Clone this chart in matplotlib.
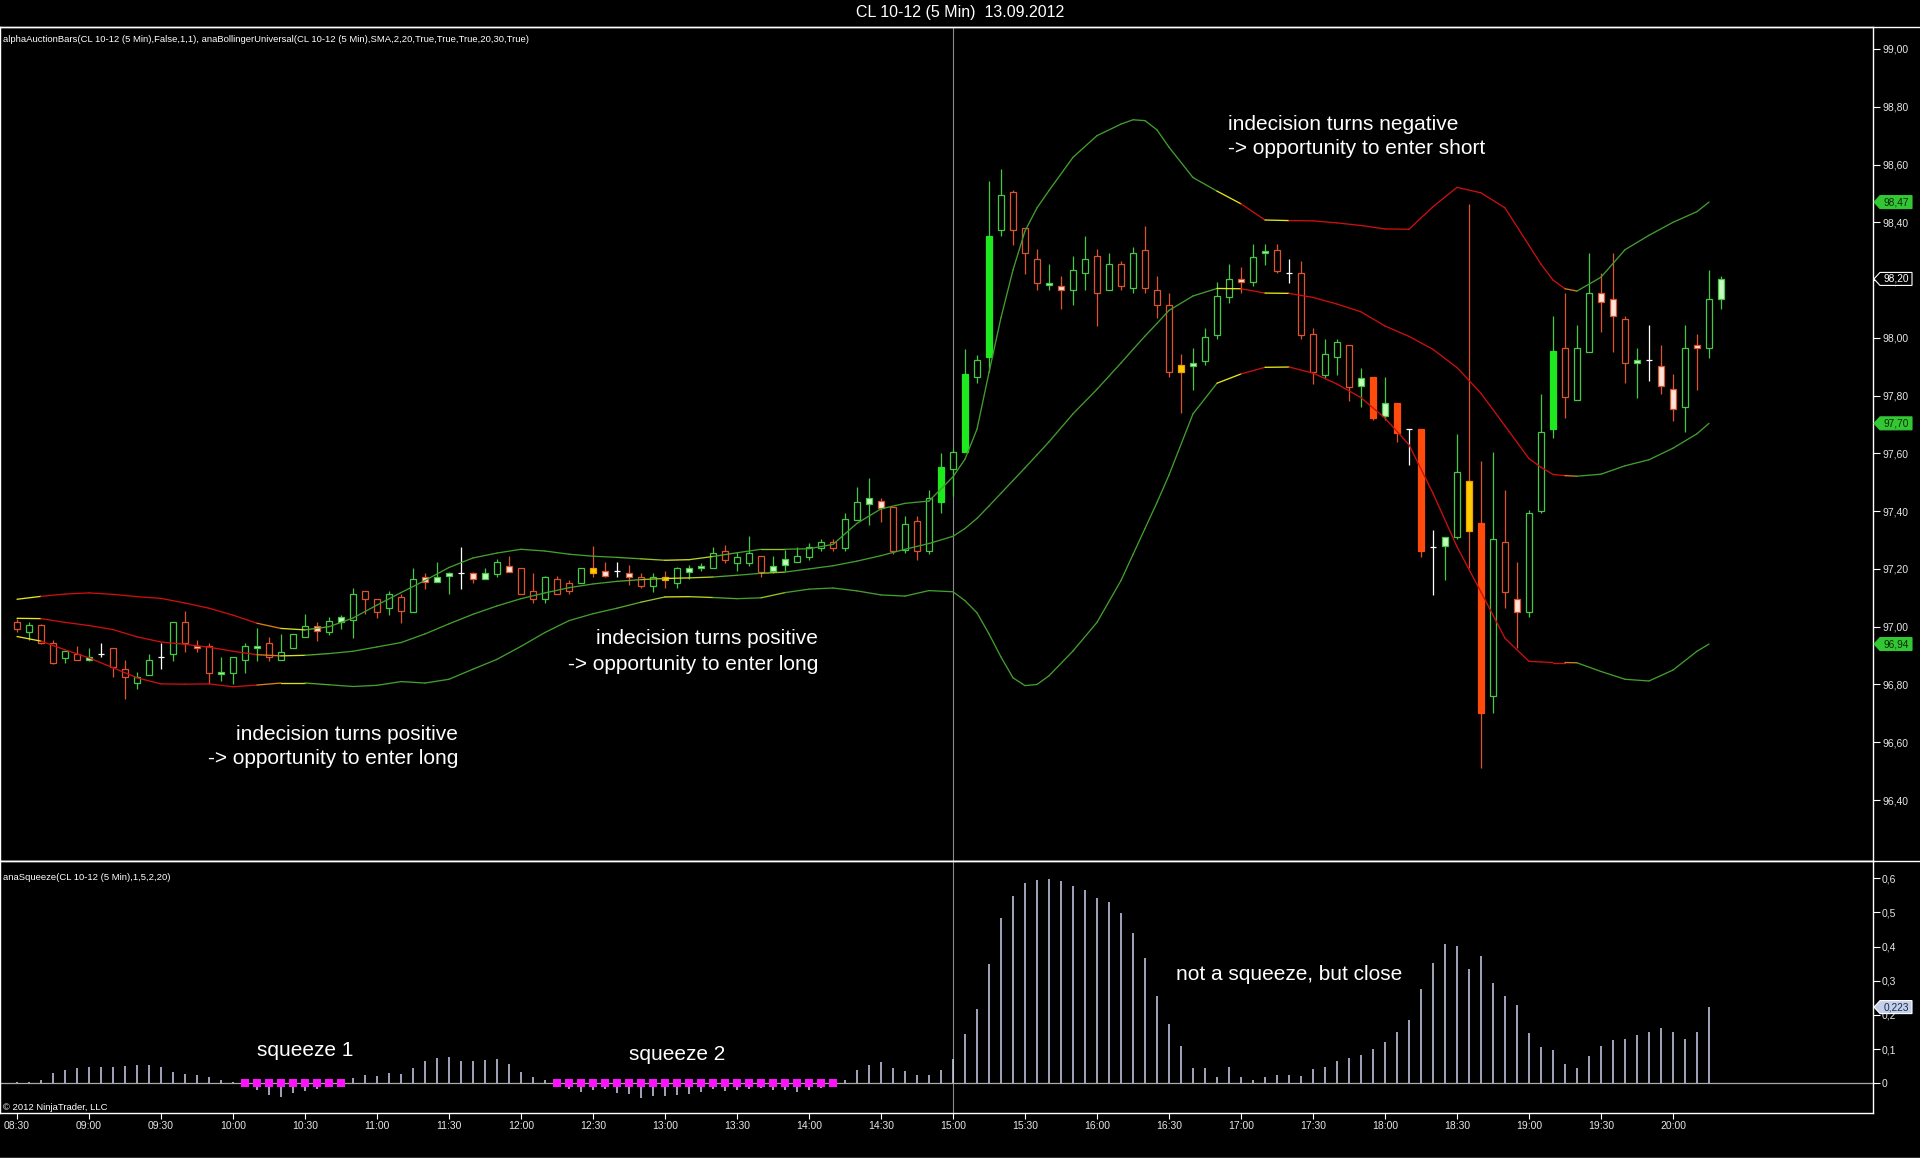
import numpy as np
import matplotlib
matplotlib.use("Agg")
import matplotlib.pyplot as plt
from matplotlib.collections import LineCollection
from matplotlib.patches import Polygon, Rectangle
from matplotlib.lines import Line2D
import matplotlib.transforms as mtransforms
from matplotlib.ticker import FixedLocator, FuncFormatter

plt.rcParams['font.family'] = ['Liberation Sans', 'DejaVu Sans']

# ------------------------------------------------------------------ data
title = "CL 10-12 (5 Min)  13.09.2012"
main_label = ("alphaAuctionBars(CL 10-12 (5 Min),False,1,1), anaBollingerUniversal(CL 10-12 (5 Min),"
              "SMA,2,20,True,True,True,20,30,True)")
sub_label = "anaSqueeze(CL 10-12 (5 Min),1,5,2,20)"
copyright_text = "\u00a9 2012 NinjaTrader, LLC"

session_start = "08:30"
bar_minutes = 5
time_labels = ["08:30", "09:00", "09:30", "10:00", "10:30", "11:00", "11:30", "12:00",
               "12:30", "13:00", "13:30", "14:00", "14:30", "15:00", "15:30", "16:00",
               "16:30", "17:00", "17:30", "18:00", "18:30", "19:00", "19:30", "20:00"]
marker_time = "15:00"

# candles (5 min bars from 08:30)
opens = [97.017, 96.983, 97.006, 96.945, 96.893, 96.904, 96.885, 96.904, 96.925, 96.852,
         96.804, 96.833, 96.894, 96.904, 97.015, 96.934, 96.933, 96.835, 96.841, 96.885,
         96.925, 96.942, 96.885, 96.925, 96.963, 97.004, 96.983, 97.017, 97.023, 97.124,
         97.096, 97.064, 97.102, 97.052, 97.173, 97.154, 97.176, 97.185, 97.185, 97.164,
         97.182, 97.211, 97.202, 97.124, 97.095, 97.164, 97.124, 97.152, 97.185, 97.193,
         97.193, 97.185, 97.173, 97.142, 97.162, 97.152, 97.190, 97.202, 97.202, 97.263,
         97.222, 97.222, 97.245, 97.193, 97.214, 97.223, 97.242, 97.274, 97.292, 97.274,
         97.369, 97.424, 97.435, 97.416, 97.266, 97.366, 97.263, 97.433, 97.545, 97.605,
         97.863, 97.933, 98.373, 98.505, 98.382, 98.274, 98.183, 98.181, 98.165, 98.223,
         98.283, 98.165, 98.256, 98.174, 98.303, 98.165, 98.112, 97.883, 97.904, 97.921,
         98.010, 98.143, 98.203, 98.192, 98.293, 98.304, 98.223, 98.223, 98.013, 97.871,
         97.933, 97.975, 97.833, 97.866, 97.731, 97.773, 97.683, 97.684, 97.275, 97.281,
         97.312, 97.504, 97.358, 96.760, 97.292, 97.095, 97.052, 97.401, 97.683, 97.964,
         97.785, 97.952, 98.154, 98.134, 98.064, 97.912, 97.922, 97.904, 97.822, 97.762,
         97.975, 97.964, 98.134]
highs = [97.025, 97.017, 97.010, 96.954, 96.916, 96.933, 96.925, 96.942, 96.925, 96.885,
         96.842, 96.904, 96.942, 97.015, 97.055, 96.954, 96.942, 96.894, 96.894, 96.942,
         96.994, 96.965, 96.974, 96.974, 97.043, 97.017, 97.032, 97.041, 97.133, 97.124,
         97.096, 97.124, 97.113, 97.202, 97.187, 97.225, 97.191, 97.277, 97.191, 97.202,
         97.233, 97.245, 97.202, 97.187, 97.176, 97.176, 97.162, 97.202, 97.279, 97.225,
         97.225, 97.214, 97.185, 97.185, 97.193, 97.208, 97.214, 97.222, 97.277, 97.283,
         97.260, 97.314, 97.245, 97.245, 97.266, 97.275, 97.291, 97.304, 97.304, 97.393,
         97.485, 97.514, 97.444, 97.416, 97.383, 97.383, 97.473, 97.603, 97.615, 97.962,
         97.942, 98.542, 98.585, 98.512, 98.382, 98.307, 98.254, 98.214, 98.283, 98.353,
         98.307, 98.294, 98.267, 98.313, 98.386, 98.214, 98.154, 97.945, 97.965, 98.033,
         98.195, 98.254, 98.244, 98.325, 98.325, 98.325, 98.273, 98.266, 98.033, 97.996,
         97.996, 97.975, 97.894, 97.866, 97.866, 97.773, 97.683, 97.684, 97.335, 97.312,
         97.666, 98.463, 97.574, 97.606, 97.473, 97.225, 97.404, 97.804, 98.076, 98.154,
         98.045, 98.295, 98.223, 98.295, 98.076, 97.964, 98.045, 97.975, 97.875, 98.045,
         98.013, 98.235, 98.214]
lows = [96.983, 96.954, 96.940, 96.870, 96.873, 96.884, 96.882, 96.894, 96.825, 96.750,
        96.783, 96.832, 96.852, 96.882, 96.914, 96.914, 96.800, 96.812, 96.802, 96.841,
        96.881, 96.882, 96.885, 96.925, 96.963, 96.952, 96.971, 96.992, 96.960, 97.043,
        97.029, 97.041, 97.014, 97.052, 97.131, 97.154, 97.113, 97.131, 97.152, 97.164,
        97.171, 97.190, 97.112, 97.083, 97.083, 97.112, 97.112, 97.152, 97.171, 97.173,
        97.173, 97.144, 97.133, 97.121, 97.133, 97.133, 97.164, 97.193, 97.202, 97.222,
        97.193, 97.211, 97.173, 97.185, 97.193, 97.223, 97.231, 97.262, 97.262, 97.262,
        97.369, 97.352, 97.364, 97.252, 97.254, 97.231, 97.252, 97.393, 97.452, 97.605,
        97.843, 97.883, 98.353, 98.323, 98.221, 98.164, 98.164, 98.101, 98.112, 98.165,
        98.042, 98.165, 98.165, 98.154, 98.154, 98.068, 97.863, 97.740, 97.820, 97.906,
        97.995, 98.122, 98.154, 98.181, 98.252, 98.223, 98.191, 97.995, 97.840, 97.860,
        97.871, 97.783, 97.762, 97.716, 97.716, 97.641, 97.560, 97.240, 97.110, 97.161,
        97.304, 97.202, 96.510, 96.700, 97.064, 96.925, 97.032, 97.392, 97.652, 97.724,
        97.785, 97.952, 98.021, 97.952, 97.843, 97.791, 97.852, 97.804, 97.713, 97.673,
        97.819, 97.931, 98.100]
closes = [96.991, 97.006, 96.942, 96.873, 96.916, 96.885, 96.896, 96.904, 96.862, 96.825,
          96.827, 96.885, 96.894, 97.015, 96.942, 96.925, 96.841, 96.842, 96.894, 96.933,
          96.933, 96.894, 96.914, 96.974, 97.004, 96.985, 97.021, 97.032, 97.113, 97.095,
          97.052, 97.113, 97.054, 97.164, 97.154, 97.173, 97.185, 97.185, 97.164, 97.185,
          97.225, 97.190, 97.112, 97.095, 97.173, 97.112, 97.152, 97.202, 97.202, 97.176,
          97.193, 97.173, 97.141, 97.173, 97.173, 97.202, 97.202, 97.211, 97.254, 97.231,
          97.243, 97.256, 97.191, 97.211, 97.233, 97.245, 97.275, 97.292, 97.274, 97.373,
          97.433, 97.444, 97.412, 97.263, 97.356, 97.263, 97.444, 97.554, 97.604, 97.876,
          97.922, 98.353, 98.495, 98.373, 98.293, 98.191, 98.190, 98.165, 98.234, 98.272,
          98.154, 98.254, 98.181, 98.294, 98.174, 98.112, 97.883, 97.905, 97.912, 98.002,
          98.145, 98.204, 98.192, 98.281, 98.302, 98.233, 98.223, 98.010, 97.883, 97.944,
          97.985, 97.831, 97.862, 97.724, 97.773, 97.672, 97.683, 97.263, 97.275, 97.312,
          97.534, 97.332, 96.700, 97.302, 97.121, 97.052, 97.392, 97.673, 97.955, 97.794,
          97.964, 98.154, 98.123, 98.076, 97.912, 97.923, 97.922, 97.833, 97.753, 97.964,
          97.964, 98.134, 98.204]
# bar colouring of alphaAuctionBars: u up, d down, U strong up, D strong down,
# g indecision up, p indecision down, y neutral, w doji   (10 bars per chunk)
bar_types = "".join([
    "duddudgwdd", "uuwudpdguu", "gduuupugud", "dudupggwpg", "upddudduyp",
    "wpduyuggud", "uudgguuudu", "ugpduduUuU", "uUudddgpuu", "dududddygu",
    "uupugdwddu", "udgDgDwDwg", "uyDudpuuUd", "uuppdgwppu", "pug",
])

# Bollinger bands (SMA 20, 2 sd) read at bar positions
band_x = [0, 2, 4, 6, 8, 10, 12, 14, 16, 18, 20, 22, 24, 26, 28, 30, 32, 34, 36, 38,
          40, 42, 44, 46, 48, 50, 52, 54, 56, 58, 60, 62, 64, 66, 68, 70, 72, 74, 76,
          78, 79, 80, 81, 82, 83, 84, 85, 86,
          88, 90, 92, 93, 94, 95, 96,
          98, 100, 102, 104, 106, 108, 110, 112, 114, 116, 118, 120, 122, 124, 126,
          127, 128, 129, 130, 132, 134, 136, 138, 140, 141]
band_upper = [97.095, 97.105, 97.113, 97.117, 97.112, 97.104, 97.098, 97.082, 97.064, 97.040,
              97.012, 96.994, 96.989, 97.000, 97.030, 97.075, 97.118, 97.160, 97.205, 97.238,
              97.255, 97.268, 97.262, 97.251, 97.244, 97.240, 97.235, 97.230, 97.232, 97.243,
              97.256, 97.268, 97.268, 97.270, 97.285, 97.358, 97.408, 97.427, 97.435,
              97.519, 97.580, 97.684, 97.880, 98.070, 98.235, 98.370, 98.450, 98.510,
              98.625, 98.700, 98.740, 98.755, 98.752, 98.720, 98.660,
              98.555, 98.508, 98.464, 98.408, 98.406, 98.405, 98.398, 98.389, 98.377, 98.376,
              98.454, 98.521, 98.502, 98.450, 98.320,
              98.255, 98.200, 98.170, 98.162, 98.210, 98.305, 98.355, 98.400, 98.437, 98.470]
band_mid = [97.029, 97.028, 97.015, 97.004, 96.990, 96.965, 96.947, 96.939, 96.929, 96.915,
            96.903, 96.899, 96.901, 96.907, 96.915, 96.930, 96.945, 96.975, 97.010, 97.043,
            97.072, 97.097, 97.117, 97.135, 97.148, 97.157, 97.163, 97.167, 97.169, 97.172,
            97.178, 97.185, 97.189, 97.200, 97.211, 97.227, 97.246, 97.268, 97.288,
            97.313, 97.340, 97.375, 97.418, 97.462, 97.506, 97.550, 97.595, 97.640,
            97.737, 97.822, 97.913, 97.960, 98.006, 98.050, 98.095,
            98.145, 98.171, 98.170, 98.155, 98.154, 98.140, 98.117, 98.090, 98.041, 98.005,
            97.960, 97.897, 97.808, 97.695, 97.582,
            97.552, 97.527, 97.523, 97.521, 97.528, 97.557, 97.578, 97.618, 97.668, 97.704]
band_lower = [96.966, 96.950, 96.920, 96.892, 96.858, 96.823, 96.802, 96.801, 96.802, 96.792,
              96.798, 96.805, 96.805, 96.799, 96.793, 96.797, 96.810, 96.805, 96.818, 96.853,
              96.887, 96.932, 96.980, 97.021, 97.045, 97.064, 97.085, 97.103, 97.104, 97.101,
              97.097, 97.100, 97.118, 97.130, 97.134, 97.124, 97.110, 97.106, 97.125,
              97.121, 97.090, 97.048, 96.975, 96.895, 96.823, 96.796, 96.800, 96.830,
              96.916, 97.015, 97.160, 97.250, 97.340, 97.430, 97.525,
              97.737, 97.843, 97.875, 97.898, 97.899, 97.878, 97.840, 97.793, 97.722, 97.630,
              97.462, 97.277, 97.120, 96.960, 96.880,
              96.878, 96.876, 96.876, 96.875, 96.845, 96.818, 96.812, 96.850, 96.915, 96.940]

# anaSqueeze momentum histogram
squeeze_hist = [0.004, 0.005, 0.010, 0.031, 0.039, 0.044, 0.048, 0.048, 0.048, 0.052,
                0.054, 0.054, 0.048, 0.033, 0.028, 0.024, 0.019, 0.011, 0.005, -0.004,
                -0.021, -0.033, -0.039, -0.029, -0.022, -0.017, -0.008, -0.002, 0.015, 0.024,
                0.021, 0.031, 0.027, 0.045, 0.065, 0.073, 0.076, 0.065, 0.065, 0.067,
                0.071, 0.057, 0.033, 0.018, 0.010, -0.006, -0.017, -0.024, -0.020, -0.018,
                -0.027, -0.031, -0.042, -0.037, -0.036, -0.034, -0.032, -0.026, -0.018, -0.022,
                -0.020, -0.018, -0.013, -0.020, -0.020, -0.024, -0.020, -0.013, -0.004, 0.010,
                0.039, 0.054, 0.061, 0.044, 0.037, 0.024, 0.024, 0.039, 0.071, 0.144,
                0.218, 0.349, 0.483, 0.548, 0.587, 0.595, 0.598, 0.592, 0.576, 0.566,
                0.541, 0.531, 0.499, 0.441, 0.366, 0.256, 0.174, 0.109, 0.044, 0.044,
                0.019, 0.047, 0.019, 0.010, 0.019, 0.024, 0.024, 0.021, 0.042, 0.048,
                0.065, 0.073, 0.083, 0.100, 0.121, 0.150, 0.184, 0.276, 0.351, 0.407,
                0.402, 0.335, 0.373, 0.293, 0.256, 0.229, 0.146, 0.105, 0.098, 0.057,
                0.044, 0.080, 0.109, 0.127, 0.130, 0.141, 0.150, 0.161, 0.150, 0.130,
                0.150, 0.223]
squeeze_periods = [("10:05", "10:45"), ("12:15", "14:10")]

price_ticks = [96.40, 96.60, 96.80, 97.00, 97.20, 97.40, 97.60, 97.80, 98.00, 98.20,
               98.40, 98.60, 98.80, 99.00]
squeeze_ticks = [0.0, 0.1, 0.2, 0.3, 0.4, 0.5, 0.6]

annotations_main = [
    ("indecision turns positive", 458, 735, 'right'),
    ("-> opportunity to enter long", 458, 759, 'right'),
    ("indecision turns positive", 818, 639, 'right'),
    ("-> opportunity to enter long", 818, 664, 'right'),
    ("indecision turns negative", 1228, 124, 'left'),
    ("-> opportunity to enter short", 1228, 148, 'left'),
]
annotations_sub = [
    ("squeeze 1", 305, 1050),
    ("squeeze 2", 677, 1054),
    ("not a squeeze, but close", 1289, 975),
]

assert len(band_x) == len(band_upper) == len(band_mid) == len(band_lower)
assert len(opens) == len(highs) == len(lows) == len(closes) == len(bar_types)

# ------------------------------------------------------------------ helpers
W, H, DPI = 1920, 1159, 100
AX_RIGHT = 1873
MAIN_TOP, MAIN_BOT = 27, 861
SUB_TOP, SUB_BOT = 861, 1113


def tidx(t):
    h0, m0 = map(int, session_start.split(":"))
    h, m = map(int, t.split(":"))
    return ((h * 60 + m) - (h0 * 60 + m0)) / bar_minutes


def fx(x):
    return x / W


def fy(y):
    return 1 - y / H


def comma(v, nd):
    return f"{v:.{nd}f}".replace(".", ",")


fig = plt.figure(figsize=(W / DPI, H / DPI), dpi=DPI, facecolor='black')
ax = fig.add_axes([0, fy(MAIN_BOT), AX_RIGHT / W, (MAIN_BOT - MAIN_TOP) / H], facecolor='black')
ax2 = fig.add_axes([0, fy(SUB_BOT), AX_RIGHT / W, (SUB_BOT - SUB_TOP) / H], facecolor='black',
                   sharex=ax)

xmin, xmax = -17 / 12, (AX_RIGHT - 17) / 12
ax.set_xlim(xmin, xmax)
ax.set_ylim(99 - (MAIN_BOT - 49) / 288.85, 99 + (49 - MAIN_TOP) / 288.85)
ax2.set_ylim(-(SUB_BOT - 1083.3) / 341.7, (1083.3 - SUB_TOP) / 341.7)

# ------------------------------------------------------------------ main panel
UP_EDGE, DN_EDGE = '#45c845', '#dc532e'
type_style = {
    'u': ('black', UP_EDGE, UP_EDGE),
    'd': ('black', DN_EDGE, DN_EDGE),
    'U': ('#1ee81e', '#1ee81e', UP_EDGE),
    'D': ('#ff4c0c', '#ff4c0c', DN_EDGE),
    'g': ('#c6fbbe', UP_EDGE, UP_EDGE),
    'p': ('#ffe4da', DN_EDGE, DN_EDGE),
    'y': ('#ffcc00', '#f0a000', DN_EDGE),
}
bw = 0.42
for i, (o, h, l, c, t) in enumerate(zip(opens, highs, lows, closes, bar_types)):
    if t == 'w':
        ax.vlines(i, l, h, color='white', lw=0.9, zorder=3)
        ax.hlines(c, i - bw / 2, i + bw / 2, color='white', lw=0.9, zorder=3)
        continue
    fill, edge, wick = type_style[t]
    top, bot = max(o, c), min(o, c)
    ax.vlines(i, l, h, color=wick, lw=0.9, zorder=2.5)
    ax.add_patch(Rectangle((i - bw / 2, bot), bw, max(top - bot, 0.004), facecolor=fill,
                           edgecolor=edge, lw=0.9, zorder=3))

# Bollinger bands coloured by slope of the middle band
bx = np.array(band_x, float)
mid = np.array(band_mid)
slope = np.diff(mid) / np.diff(bx)
frac = np.clip((np.abs(slope) - 0.0008) / 0.0025, 0, 1)
c_yel = np.array([0.90, 0.90, 0.10])
c_grn = np.array([0.26, 0.62, 0.18])
c_red = np.array([0.80, 0.06, 0.06])
seg_cols = [c_yel * (1 - f) + (c_grn if s > 0 else c_red) * f for s, f in zip(slope, frac)]
for band in (band_upper, band_mid, band_lower):
    pts = np.column_stack([bx, band])
    segs = np.stack([pts[:-1], pts[1:]], axis=1)
    ax.add_collection(LineCollection(segs, colors=seg_cols, linewidths=0.95, zorder=4,
                                     capstyle='round', joinstyle='round'))

ax.axvline(tidx(marker_time), color='#8a8a8a', lw=0.8, zorder=1)
ax2.axvline(tidx(marker_time), color='#8a8a8a', lw=0.8, zorder=1)

# ------------------------------------------------------------------ squeeze panel
hx = np.arange(len(squeeze_hist))
ax2.axhline(0, color='#a8a8a8', lw=0.9, zorder=2)
ax2.vlines(hx, 0, squeeze_hist, color='#cdd2ec', lw=1.1, zorder=3)
for a, b in squeeze_periods:
    sx = np.arange(tidx(a), tidx(b) + 1)
    ax2.plot(sx, np.zeros_like(sx), 's', color='#ff10ff', ms=5.8, mew=0, zorder=5)

# ------------------------------------------------------------------ axes styling
for a in (ax, ax2):
    for sp in a.spines.values():
        sp.set_color('white')
        sp.set_linewidth(1.0)
    a.yaxis.tick_right()
    a.tick_params(axis='y', direction='out', length=5, width=0.8, colors='white',
                  labelsize=7.5, pad=1.5, labelcolor='#e6e6e6')

ax.yaxis.set_major_locator(FixedLocator(price_ticks))
ax.yaxis.set_major_formatter(FuncFormatter(lambda v, p: comma(v, 2)))
ax2.yaxis.set_major_locator(FixedLocator(squeeze_ticks))
ax2.yaxis.set_major_formatter(FuncFormatter(lambda v, p: "0" if abs(v) < 1e-9 else comma(v, 1)))

ax.tick_params(axis='x', bottom=False, labelbottom=False)
ax2.set_xticks([tidx(t) for t in time_labels])
ax2.set_xticklabels(time_labels)
ax2.tick_params(axis='x', direction='out', length=4, width=0.8, colors='white',
                labelsize=7.5, pad=2, labelcolor='#e6e6e6')

# full width frame lines
for yy in (MAIN_TOP, SUB_TOP, 1158):
    fig.add_artist(Line2D([0, 1], [fy(yy), fy(yy)], color='white', lw=1.0,
                          transform=fig.transFigure))


# ------------------------------------------------------------------ value markers
def value_marker(axis, value, text, face, edge, tcolor):
    yd = axis.transData.transform((0, value))[1]
    x0 = AX_RIGHT + 1
    pts = [(x0, yd), (x0 + 6, yd + 6.5), (x0 + 38, yd + 6.5), (x0 + 38, yd - 6.5), (x0 + 6, yd - 6.5)]
    fig.add_artist(Polygon(pts, closed=True, facecolor=face, edgecolor=edge, lw=0.8,
                           transform=mtransforms.IdentityTransform(), zorder=20))
    fig.text(fx(x0 + 22), yd / H, text, color=tcolor, fontsize=7.3, ha='center',
             va='center', zorder=21)


value_marker(ax, band_upper[-1], comma(band_upper[-1], 2), '#33c833', '#33c833', '#0a2a0a')
value_marker(ax, closes[-1], comma(closes[-1], 2), 'black', 'white', 'white')
value_marker(ax, band_mid[-1], comma(band_mid[-1], 2), '#33c833', '#33c833', '#0a2a0a')
value_marker(ax, band_lower[-1], comma(band_lower[-1], 2), '#33c833', '#33c833', '#0a2a0a')
value_marker(ax2, squeeze_hist[-1], comma(squeeze_hist[-1], 3), '#c4d0ea', 'white', '#1a2a4a')

# ------------------------------------------------------------------ texts
fig.text(0.5, fy(13), title, color='white', fontsize=11.5, ha='center', va='center')
fig.text(fx(3), fy(39), main_label, color='white', fontsize=6.8, ha='left', va='center')
fig.text(fx(3), fy(878), sub_label, color='white', fontsize=6.8, ha='left', va='center')
fig.text(fx(3), fy(1107), copyright_text, color='white', fontsize=6.8, ha='left', va='center')

for txt, x, y, ha in annotations_main:
    fig.text(fx(x), fy(y), txt, color='white', fontsize=15, ha=ha, va='center')
for txt, x, y in annotations_sub:
    fig.text(fx(x), fy(y), txt, color='white', fontsize=15, ha='center', va='center')

fig.savefig("out.png", dpi=DPI, facecolor='black')
